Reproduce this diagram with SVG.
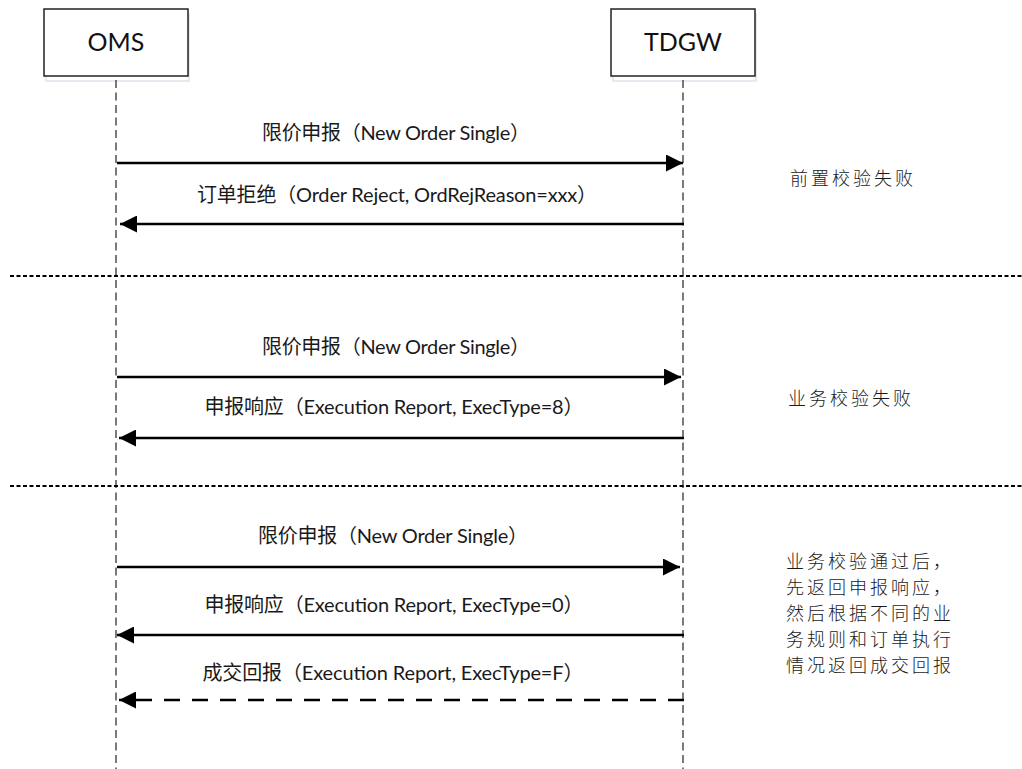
<svg xmlns="http://www.w3.org/2000/svg" width="1022" height="769" viewBox="0 0 1022 769">
<style>
  .box { fill: #ffffff; stroke: #222222; stroke-width: 1.5; }
  .shadow { fill: none; stroke: #dfe5ec; stroke-width: 1.5; }
  .boxlabel { font-family: "Lato", "Noto Sans CJK SC", sans-serif; font-size: 25px; fill: #111111; text-anchor: middle; }
  .life { stroke: #333333; stroke-width: 1.3; stroke-dasharray: 8 4.5; fill: none; }
  .sep { stroke: #000000; stroke-width: 2; stroke-dasharray: 4 2.5; fill: none; }
  .msg { stroke: #000000; stroke-width: 2.6; fill: none; }
  .dashed { stroke-dasharray: 16 12; }
  .label { font-family: "Lato", "Noto Sans CJK SC", sans-serif; font-size: 20px; fill: #1a1a1a; text-anchor: middle; }
  .note { font-family: "Noto Sans CJK SC", sans-serif; font-size: 18px; letter-spacing: 3px; fill: #1a1a1a; font-weight: 300; }
</style>
<defs>
  <marker id="arrow" viewBox="0 0 17 17" refX="17" refY="8.5" markerWidth="17" markerHeight="17" markerUnits="userSpaceOnUse" orient="auto">
    <path d="M0,0 L17,8.5 L0,17 Z" fill="#000000"/>
  </marker>
</defs>
<rect width="1022" height="769" fill="#ffffff"/>

<g id="node-oms">
  <rect class="shadow" x="46" y="14" width="143" height="67"/>
  <rect class="box" x="44" y="9" width="144" height="67"/>
  <text class="boxlabel" x="116" y="51">OMS</text>
</g>
<g id="node-tdgw">
  <rect class="shadow" x="613" y="14" width="143" height="67"/>
  <rect class="box" x="611" y="9" width="144" height="67"/>
  <text class="boxlabel" x="683" y="51">TDGW</text>
</g>

<g id="lifelines">
  <line class="life" x1="116" y1="80" x2="116" y2="769"/>
  <line class="life" x1="683" y1="80" x2="683" y2="769"/>
</g>

<g id="separators">
  <line class="sep" x1="10" y1="276" x2="1022" y2="276"/>
  <line class="sep" x1="10" y1="486" x2="1022" y2="486"/>
</g>

<g id="connectors">
  <line class="msg" x1="117" y1="163" x2="683" y2="163" marker-end="url(#arrow)"/>
  <line class="msg" x1="684" y1="224" x2="120" y2="224" marker-end="url(#arrow)"/>
  <line class="msg" x1="117" y1="377" x2="681" y2="377" marker-end="url(#arrow)"/>
  <line class="msg" x1="684" y1="438" x2="119" y2="438" marker-end="url(#arrow)"/>
  <line class="msg" x1="117" y1="567" x2="680" y2="567" marker-end="url(#arrow)"/>
  <line class="msg" x1="684" y1="635" x2="117" y2="635" marker-end="url(#arrow)"/>
  <line class="msg dashed" x1="684" y1="700" x2="119" y2="700" marker-end="url(#arrow)"/>
</g>

<g id="labels">
  <text class="label" x="396" y="140" textLength="268">限价申报（New Order Single）</text>
  <text class="label" x="397" y="202" textLength="400">订单拒绝（Order Reject, OrdRejReason=xxx）</text>
  <text class="label" x="396" y="354" textLength="268">限价申报（New Order Single）</text>
  <text class="label" x="394" y="414" textLength="379">申报响应（Execution Report, ExecType=8）</text>
  <text class="label" x="393" y="543" textLength="270">限价申报（New Order Single）</text>
  <text class="label" x="394" y="612" textLength="379">申报响应（Execution Report, ExecType=0）</text>
  <text class="label" x="393" y="680" textLength="381">成交回报（Execution Report, ExecType=F）</text>
</g>

<g id="notes">
  <text class="note" x="790" y="185">前置校验失败</text>
  <text class="note" x="788" y="405">业务校验失败</text>
  <text class="note" x="786" y="568">业务校验通过后，</text>
  <text class="note" x="786" y="594">先返回申报响应，</text>
  <text class="note" x="786" y="620">然后根据不同的业</text>
  <text class="note" x="786" y="646">务规则和订单执行</text>
  <text class="note" x="786" y="672">情况返回成交回报</text>
</g>
</svg>
